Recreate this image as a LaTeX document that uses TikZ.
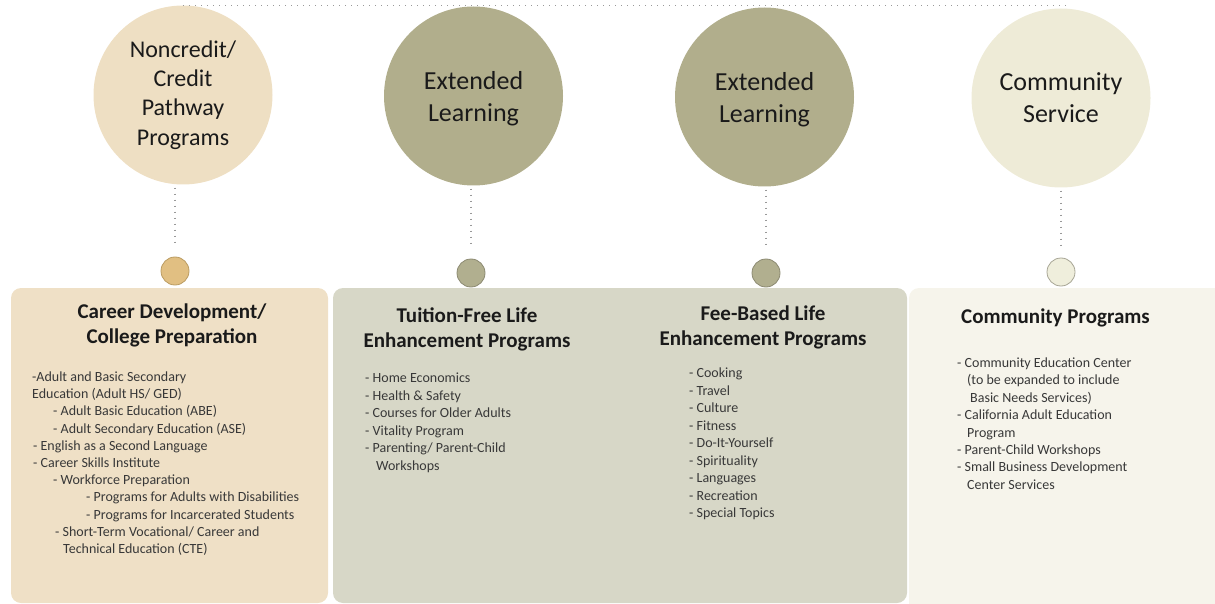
\documentclass[tikz,border=0pt]{standalone}
\usepackage{fontspec}
\setmainfont{Carlito}
\definecolor{beigeC}{HTML}{EEDFC3}
\definecolor{beigeB}{HTML}{EFE0C6}
\definecolor{oliveC}{HTML}{B1AE8C}
\definecolor{grayB}{HTML}{D7D7C7}
\definecolor{creamC}{HTML}{EEEBD7}
\definecolor{creamB}{HTML}{F6F4EB}
\definecolor{goldS}{HTML}{E1BF82}
\definecolor{goldSd}{HTML}{BB9C62}
\definecolor{oliveS}{HTML}{B1AF8F}
\definecolor{oliveSd}{HTML}{8C8A72}
\definecolor{creamS}{HTML}{EFEEDC}
\definecolor{creamSd}{HTML}{A7A595}
\definecolor{dotc}{HTML}{999999}
\definecolor{txtA}{HTML}{1A1A1A}
\definecolor{txtB}{HTML}{383838}
\begin{document}
\begin{tikzpicture}[x=1pt,y=-1pt,
  bigc/.style={circle,minimum size=179pt,inner sep=0pt},
  ctext/.style={inner sep=0pt,align=center,text=txtA},
  smallc/.style={circle,minimum size=28pt,inner sep=0pt,line width=0.8pt},
  panel/.style={rounded corners=10pt},
  dotln/.style={dotc,line width=1.5pt,dash pattern=on 1.3pt off 4.7pt},
  ttl/.style={inner sep=0pt,anchor=base,text=txtA,font=\bfseries\fontsize{21}{25}\selectfont},
  itm/.style={inner sep=0pt,anchor=base west,text=txtB,font=\fontsize{14}{17}\selectfont}]
\useasboundingbox (0,0) rectangle (1215,604);
\clip (0,0) rectangle (1215,604);
% panels
\path[panel,fill=beigeB] (11,288) rectangle (328,603);
\path[panel,fill=grayB] (333,288) rectangle (907,603);
\path[panel,fill=creamB] (909,288) rectangle (1240,620);
% big circles
\node[bigc,fill=beigeC] (c1) at (183,95) {};
\node[bigc,fill=oliveC] (c2) at (473.5,96) {};
\node[bigc,fill=oliveC] (c3) at (764.5,97) {};
\node[bigc,fill=creamC] (c4) at (1061,98) {};
\node[ctext,font=\fontsize{24}{29.3}\selectfont] (c1t) at (c1.center) {Noncredit/\\Credit\\Pathway\\Programs};
\node[ctext,font=\fontsize{26}{32}\selectfont] (c2t) at ([yshift=-3pt]c2.center) {Extended\\Learning};
\node[ctext,font=\fontsize{26}{32}\selectfont] (c3t) at ([yshift=-3pt]c3.center) {Extended\\Learning};
\node[ctext,font=\fontsize{26}{32}\selectfont] (c4t) at (c4.center) {Community\\Service};
% small circles
\node[smallc,fill=goldS,draw=goldSd] (s1) at (175,271) {};
\node[smallc,fill=oliveS,draw=oliveSd] (s2) at (471,273) {};
\node[smallc,fill=oliveS,draw=oliveSd] (s3) at (766,273) {};
\node[smallc,fill=creamS,draw=creamSd] (s4) at (1061,272) {};
% connectors
\coordinate (topend) at ([xshift=5pt]c1.north -| c4.north);
\draw[dotln] (c1.north) -- (topend);
\draw[dotln,shorten <=3pt,shorten >=10pt] (s1.north |- c1.south) -- (s1.north);
\draw[dotln,shorten <=3pt,shorten >=10pt] (s2.north |- c2.south) -- (s2.north);
\draw[dotln,shorten <=3pt,shorten >=10pt] (s3.north |- c3.south) -- (s3.north);
\draw[dotln,shorten <=3pt,shorten >=10pt] (s4.north |- c4.south) -- (s4.north);
% titles
\node[ttl] (t1a) at (172,318) {Career Development/};
\node[ttl] (t1b) at (172,343) {College Preparation};
\node[ttl] (t2a) at (467,322) {Tuition-Free Life};
\node[ttl] (t2b) at (467,347) {Enhancement Programs};
\node[ttl] (t3a) at (763,320) {Fee-Based Life};
\node[ttl] (t3b) at (763,345) {Enhancement Programs};
\node[ttl] (t4a) at (1055.5,323) {Community Programs};
% box 1 items
\node[itm] (a0) at (32,381.5) {-Adult and Basic Secondary};
\node[itm] (a1) at (32,398.7) {Education (Adult HS/ GED)};
\node[itm] (a2) at (53,415.9) {- Adult Basic Education (ABE)};
\node[itm] (a3) at (53,433.1) {- Adult Secondary Education (ASE)};
\node[itm] (a4) at (33,450.3) {- English as a Second Language};
\node[itm] (a5) at (33,467.5) {- Career Skills Institute};
\node[itm] (a6) at (53,484.7) {- Workforce Preparation};
\node[itm] (a7) at (86,501.9) {- Programs for Adults with Disabilities};
\node[itm] (a8) at (86,519.1) {- Programs for Incarcerated Students};
\node[itm] (a9) at (55,536.3) {- Short-Term Vocational/ Career and};
\node[itm] (a10) at (63,553.5) {Technical Education (CTE)};
% box 2a items
\node[itm] (b0) at (365,382.5) {- Home Economics};
\node[itm] (b1) at (365,400) {- Health \& Safety};
\node[itm] (b2) at (365,417.5) {- Courses for Older Adults};
\node[itm] (b3) at (365,435) {- Vitality Program};
\node[itm] (b4) at (365,452.5) {- Parenting/ Parent-Child};
\node[itm] (b5) at (376,470) {Workshops};
% box 2b items
\node[itm] (d0) at (689,377.5) {- Cooking};
\node[itm] (d1) at (689,395) {- Travel};
\node[itm] (d2) at (689,412.5) {- Culture};
\node[itm] (d3) at (689,430) {- Fitness};
\node[itm] (d4) at (689,447.5) {- Do-It-Yourself};
\node[itm] (d5) at (689,465) {- Spirituality};
\node[itm] (d6) at (689,482.5) {- Languages};
\node[itm] (d7) at (689,500) {- Recreation};
\node[itm] (d8) at (689,517.5) {- Special Topics};
% box 3 items
\node[itm] (e0) at (957,367.5) {- Community Education Center};
\node[itm] (e1) at (967,384.9) {(to be expanded to include};
\node[itm] (e2) at (970,402.3) {Basic Needs Services)};
\node[itm] (e3) at (957,419.7) {- California Adult Education};
\node[itm] (e4) at (967,437.1) {Program};
\node[itm] (e5) at (957,454.5) {- Parent-Child Workshops};
\node[itm] (e6) at (957,471.9) {- Small Business Development};
\node[itm] (e7) at (967,489.3) {Center Services};
\end{tikzpicture}
\end{document}
